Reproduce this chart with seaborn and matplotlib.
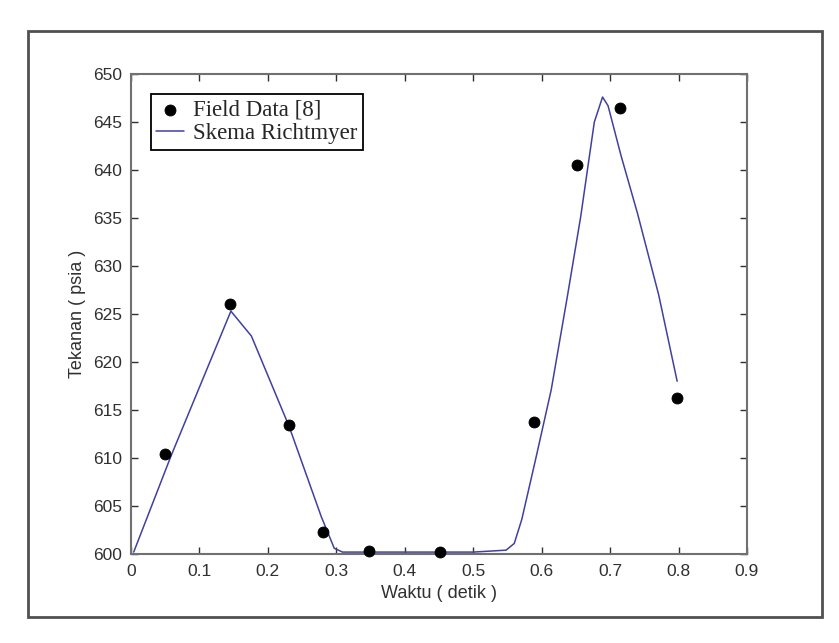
import matplotlib.pyplot as plt
import seaborn as sns
import pandas as pd
from matplotlib.patches import Rectangle

# field measurements
field_t = [0.049, 0.145, 0.231, 0.281, 0.348, 0.452, 0.589, 0.652, 0.715, 0.798]
field_p = [610.4, 626.0, 613.4, 602.3, 600.3, 600.2, 613.7, 640.5, 646.5, 616.2]

# Richtmyer scheme result
model_t = [0.004, 0.059, 0.146, 0.176, 0.231, 0.278, 0.297, 0.309, 0.40, 0.50, 0.548,
           0.560, 0.571, 0.591, 0.614, 0.638, 0.657, 0.677, 0.689, 0.697, 0.716,
           0.740, 0.771, 0.798]
model_p = [600.2, 610.3, 625.3, 622.7, 613.3, 603.9, 600.6, 600.2, 600.2, 600.2, 600.4,
           601.1, 603.6, 609.8, 617.1, 627.0, 635.1, 645.0, 647.6, 646.7, 641.5,
           635.5, 627.0, 618.0]

sns.set_style("ticks")
plt.rcParams['font.family'] = ['Liberation Sans', 'DejaVu Sans']

fig = plt.figure(figsize=(8.39, 6.43), dpi=100)
fig.patches.append(Rectangle((0.0334, 0.041), 0.9466, 0.911, transform=fig.transFigure,
                             fill=False, edgecolor="#505050", linewidth=2))
ax = fig.add_axes([0.1561, 0.1384, 0.7342, 0.7465])

df_model = pd.DataFrame({"t": model_t, "p": model_p})
df_field = pd.DataFrame({"t": field_t, "p": field_p})

sns.lineplot(data=df_model, x="t", y="p", ax=ax, color="#4040a0", linewidth=1.1,
             label="Skema Richtmyer", sort=False)
sns.scatterplot(data=df_field, x="t", y="p", ax=ax, color="black", s=62,
                edgecolor="black", label="Field Data [8]", clip_on=False, zorder=3)

ax.set_xlim(0, 0.9)
ax.set_ylim(600, 650)
ax.set_xticks([0, 0.1, 0.2, 0.3, 0.4, 0.5, 0.6, 0.7, 0.8, 0.9])
ax.set_xticklabels(["0", "0.1", "0.2", "0.3", "0.4", "0.5", "0.6", "0.7", "0.8", "0.9"])
ax.set_yticks(range(600, 651, 5))
ax.tick_params(direction="in", top=True, right=True, length=5, width=1,
               labelsize=12.5, colors="#303030", labelcolor="#303030")
ax.tick_params(axis="x", pad=7.5)
ax.tick_params(axis="y", pad=6.5)
for s in ax.spines.values():
    s.set_color("#707070")
    s.set_linewidth(1.5)

ax.set_xlabel("Waktu ( detik )", fontsize=13, color="#303030", labelpad=4)
ax.set_ylabel("Tekanan ( psia )", fontsize=13, color="#303030", labelpad=5)

handles, labels = ax.get_legend_handles_labels()
order = [labels.index("Field Data [8]"), labels.index("Skema Richtmyer")]
leg = ax.legend([handles[i] for i in order], [labels[i] for i in order],
                loc="upper left", bbox_to_anchor=(0.032, 0.958), frameon=True,
                fancybox=False, edgecolor="black", framealpha=1,
                prop={"family": "Liberation Serif", "size": 16.5},
                handlelength=1.2, handletextpad=0.4, borderpad=0.25, labelspacing=0.1,
                borderaxespad=0)
leg.get_frame().set_linewidth(1.3)

fig.savefig("out.png", dpi=100)
